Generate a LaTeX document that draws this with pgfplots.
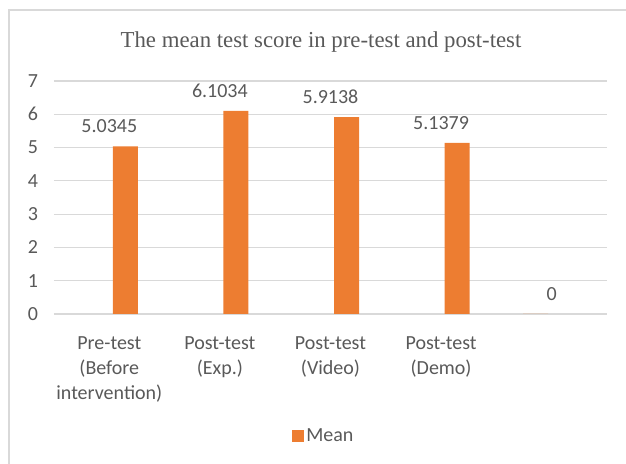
\documentclass[border=0pt]{standalone}
\usepackage{fontspec}
\setmainfont{Carlito}
\newfontfamily\titlefont{Liberation Serif}
\usepackage{pgfplots}
\pgfplotsset{compat=1.18}
\definecolor{barorange}{HTML}{ED7D31}
\definecolor{txt}{HTML}{595959}
\definecolor{gridc}{HTML}{D9D9D9}
\begin{document}
\begin{tikzpicture}[x=1pt,y=1pt]
\path[use as bounding box] (0,0) rectangle (469.5,348);
\draw[gridc, line width=1.5pt] (6.75,-5) -- (6.75,340.5) -- (480,340.5);
\node[text=txt, font=\titlefont\fontsize{17.1}{20}\selectfont] at (240.75,316.5) {The mean test score in pre-test and post-test};
\begin{axis}[
  at={(40.5pt,112.5pt)}, anchor=south west, scale only axis,
  width=414.75pt, height=174.75pt,
  xmin=-0.5, xmax=4.5, ymin=0, ymax=7,
  axis line style={draw=none},
  /pgf/number format/assume math mode=true,
  ytick={0,1,2,3,4,5,6,7},
  ymajorgrids, grid style={gridc, line width=0.9pt},
  major tick length=0pt,
  xtick={0,1,2,3},
  xticklabels={{Pre-test\\(Before\\intervention)},{Post-test\\(Exp.)},{Post-test\\(Video)},{Post-test\\(Demo)}},
  xticklabel style={align=center, text=txt, font=\fontsize{15}{18.75}\selectfont, anchor=north, yshift=-13.5pt},
  yticklabel style={text=txt, font=\fontsize{15}{18}\selectfont, anchor=east, xshift=-8.5pt},
  legend style={at={(0.488,-0.5236)}, anchor=center, draw=none, fill=none,
    font=\fontsize{15}{18}\selectfont, text=txt,
    legend cell align=left},
  legend image code/.code={\fill[barorange] (0pt,-4.5pt) rectangle (9pt,4.5pt);},
  nodes near coords style={text=txt, font=\fontsize{15}{18}\selectfont, anchor=center, yshift=15pt},
  clip=false,
]
\addplot[ybar, fill=barorange, draw=none, bar width=0.226, bar shift=0.145,
  point meta=explicit symbolic, nodes near coords]
  coordinates {(0,5.0345) [5.0345] (1,6.1034) [6.1034] (2,5.9138) [5.9138] (3,5.1379) [5.1379]};
\addlegendentry{Mean}
\addplot[ybar, fill=barorange, draw=none, bar width=0.226, bar shift=-0.145,
  point meta=explicit symbolic, nodes near coords, forget plot]
  coordinates {(4,0) [0]};
\end{axis}
\end{tikzpicture}
\end{document}
